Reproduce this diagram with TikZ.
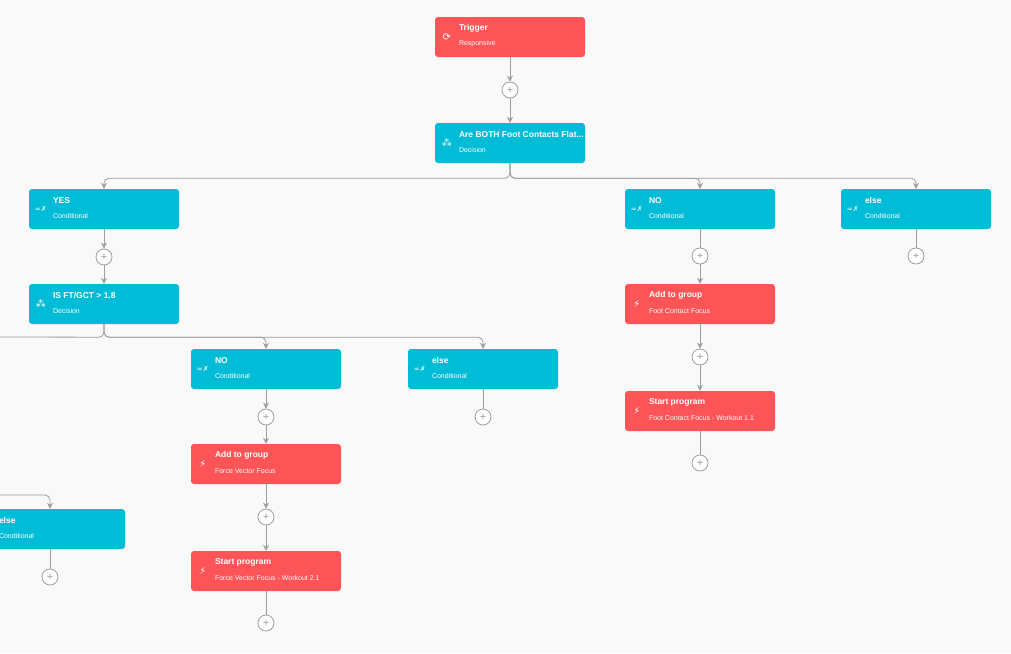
\documentclass[tikz,border=0pt]{standalone}
\usepackage{fontspec}
\setmainfont{Liberation Sans}
\newfontfamily\iconfont{DejaVu Sans}
\usetikzlibrary{arrows.meta}
\usetikzlibrary{positioning}
\usetikzlibrary{calc}
\definecolor{redbox}{HTML}{FD5457}
\definecolor{cyanbox}{HTML}{00BCD6}
\definecolor{wire}{HTML}{9E9E9E}
\definecolor{paper}{HTML}{F9F9F9}
\tikzset{
  box/.style = {minimum width = 150, minimum height = 40, rounded corners = 3, inner sep = 0},
  action/.style = {box, fill = redbox},
  branch/.style = {box, fill = cyanbox},
  plus/.style = {circle, draw = wire, fill = white, thick, minimum size = 16, inner sep = 0, font = \fontsize{11}{11}\selectfont, text = wire},
  wireline/.style = {draw = wire, thick, -{Stealth[length = 6, width = 6]}},
  title/.style = {anchor = west, inner sep = 0, text = white, font = \fontsize{8.5}{9}\selectfont\bfseries},
  sub/.style = {anchor = west, inner sep = 0, text = white, font = \fontsize{7}{7}\selectfont},
  icon/.style = {inner sep = 0, text = white, font = \fontsize{10}{10}\iconfont}
}
% box with its two lines of text and an icon
\newcommand{\flowbox}[6]{%
  \node [#2] (#1) at (#3) {};
  \node [title] (#1-t) at ($(#1.north west)+(24,12)$) {#4};
  \node [sub] (#1-s) at ($(#1.north west)+(24,27)$) {#5};
  \node [icon] (#1-i) at ($(#1.west)+(12,0)$) {#6};
}

\begin{document}
\begin{tikzpicture}[x = 1pt, y = -1pt]
    \fill [paper] (0,0) rectangle (1011,653);
    \useasboundingbox (0,0) rectangle (1011,653);
    % boxes
    \flowbox{trig}{action}{510,37}{Trigger}{Responsive}{⟳}
    \flowbox{both}{branch}{510,143}{Are BOTH Foot Contacts Flat...}{Decision}{⁂}
    \flowbox{yes}{branch}{104,209}{YES}{Conditional}{\fontsize{7}{7}\selectfont=✗}
    \flowbox{no}{branch}{700,209}{NO}{Conditional}{\fontsize{7}{7}\selectfont=✗}
    \flowbox{els}{branch}{916,209}{else}{Conditional}{\fontsize{7}{7}\selectfont=✗}
    \flowbox{ratio}{branch}{104,304}{IS FT/GCT > 1.8}{Decision}{⁂}
    \flowbox{rno}{branch}{266,369}{NO}{Conditional}{\fontsize{7}{7}\selectfont=✗}
    \flowbox{rels}{branch}{483,369}{else}{Conditional}{\fontsize{7}{7}\selectfont=✗}
    \flowbox{lels}{branch}{50,529}{else}{Conditional}{\fontsize{7}{7}\selectfont=✗}
    \flowbox{fvgroup}{action}{266,464}{Add to group}{Force Vector Focus}{⚡}
    \flowbox{fvprog}{action}{266,571}{Start program}{Force Vector Focus - Workout 2.1}{⚡}
    \flowbox{fcgroup}{action}{700,304}{Add to group}{Foot Contact Focus}{⚡}
    \flowbox{fcprog}{action}{700,411}{Start program}{Foot Contact Focus - Workout 1.1}{⚡}
    % plus buttons
    \node [plus] (p1) at (510,90) {+};
    \node [plus] (p2) at (104,257) {+};
    \node [plus] (p3) at (700,256) {+};
    \node [plus] (p4) at (916,256) {+};
    \node [plus] (p5) at (266,417) {+};
    \node [plus] (p6) at (483,417) {+};
    \node [plus] (p7) at (266,517) {+};
    \node [plus] (p8) at (266,623) {+};
    \node [plus] (p9) at (700,357) {+};
    \node [plus] (p10) at (700,463) {+};
    \node [plus] (p11) at (50,577) {+};
    \coordinate (offleft) at (0,337);
    \coordinate (offlow) at (0,495);
    % paths
    \draw [wireline] (trig) -- (p1);
    \draw [wireline] (p1) -- (both);
    \draw [wireline, rounded corners = 5] (both.south) -- ++(0,15) -| (yes.north);
    \draw [wireline, rounded corners = 5] (both.south) -- ++(0,15) -| (no.north);
    \draw [wireline, rounded corners = 5] (both.south) -- ++(0,15) -| (els.north);
    \draw [wireline] (yes) -- (p2);
    \draw [wireline] (p2) -- (ratio);
    \draw [draw = wire, thick, rounded corners = 5] (ratio.south) -- ++(0,13) -- (offleft);
    \draw [wireline, rounded corners = 5] (ratio.south) -- ++(0,13) -| (rno.north);
    \draw [wireline, rounded corners = 5] (ratio.south) -- ++(0,13) -| (rels.north);
    \draw [wireline, rounded corners = 5] (offlow) -| (lels.north);
    \draw [draw = wire, thick] (no) -- (p3);
    \draw [draw = wire, thick] (els) -- (p4);
    \draw [draw = wire, thick] (rels) -- (p6);
    \draw [draw = wire, thick] (lels) -- (p11);
    \draw [wireline] (p3) -- (fcgroup);
    \draw [wireline] (fcgroup) -- (p9);
    \draw [wireline] (p9) -- (fcprog);
    \draw [draw = wire, thick] (fcprog) -- (p10);
    \draw [wireline] (rno) -- (p5);
    \draw [wireline] (p5) -- (fvgroup);
    \draw [wireline] (fvgroup) -- (p7);
    \draw [wireline] (p7) -- (fvprog);
    \draw [draw = wire, thick] (fvprog) -- (p8);
\end{tikzpicture}
\end{document}
